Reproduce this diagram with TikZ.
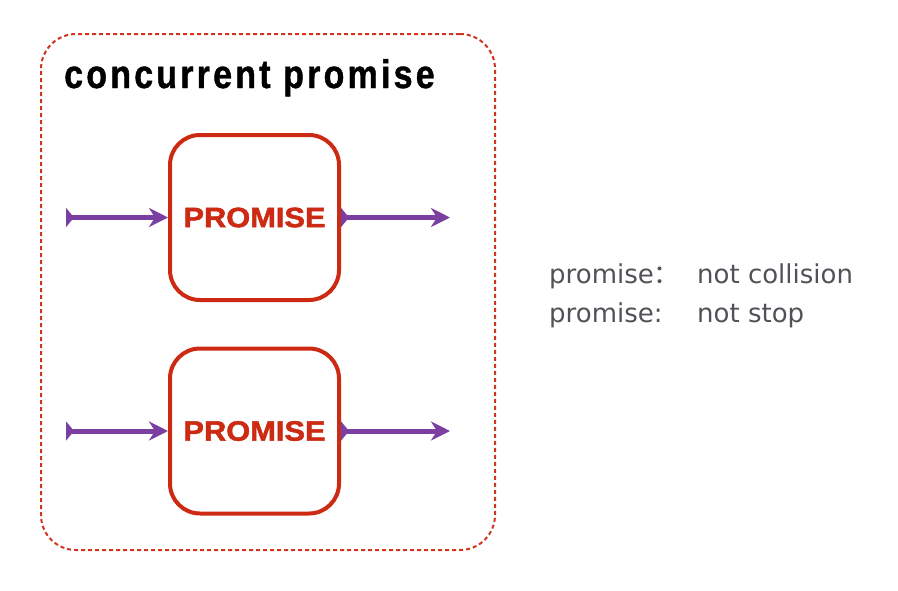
\documentclass[tikz,border=0pt]{standalone}
\usepackage{fontspec}
\usepackage{tikz}
\usetikzlibrary{arrows.meta, positioning}
\setmainfont{Liberation Sans}
\newfontfamily\titlefont{Liberation Sans Bold}[FakeStretch=0.85,LetterSpace=8,FakeBold=1]
\newfontfamily\promfont{Liberation Sans Bold}[FakeStretch=1.1,FakeBold=1.8]
\newfontfamily\notefont{DejaVu Sans}
\newfontfamily\cjkfont{Noto Sans CJK SC}

\definecolor{promred}{HTML}{CC2A12}
\definecolor{dashred}{HTML}{D0341F}
\definecolor{flowpurple}{HTML}{7A3FA0}
\definecolor{notegray}{HTML}{4F5257}

\begin{document}
\begin{tikzpicture}[x=1pt, y=-1pt,
    promise/.style={draw=promred, line width=4pt, rounded corners=30pt,
        minimum width=169pt, minimum height=165pt, text=promred,
        font=\promfont\fontsize{28}{28}\selectfont},
    flow/.style={draw=flowpurple, line width=5pt,
        {Triangle[reversed,length=8pt,width=19pt]}-{Stealth[length=19pt,width=19pt,inset=6pt]}},
    note/.style={anchor=base west, inner sep=0pt, text=notegray,
        font=\notefont\fontsize{26}{26}\selectfont}]
    \useasboundingbox (0,0) rectangle (898,590);

    % container
    \node[draw=dashred, line width=2pt, dash pattern=on 4pt off 3pt, rounded corners=35pt,
        minimum width=454pt, minimum height=516pt] (outer) at (268,292) {};
    \node[anchor=base west, inner sep=0pt, font=\titlefont\fontsize{40}{40}\selectfont]
        (title) at (64,88) {concurrent promise};

    \node[promise] (promA) at (254.5,217.5) {PROMISE};
    \node[promise] (promB) at (254.5,431) {PROMISE};

    \coordinate (inA) at (66,217.5);
    \coordinate (outA) at (450,217.5);
    \coordinate (inB) at (66,431);
    \coordinate (outB) at (450,431);

    \draw[flow] (inA) -- (promA);
    \draw[flow] (promA) -- (outA);
    \draw[flow] (inB) -- (promB);
    \draw[flow] (promB) -- (outB);

    % notes
    \node[note] (noteA) at (549,283) {\makebox[148pt][l]{promise{\cjkfont ：}}not collision};
    \node[note] (noteB) at (549,322) {\makebox[148pt][l]{promise:}not stop};
\end{tikzpicture}
\end{document}
